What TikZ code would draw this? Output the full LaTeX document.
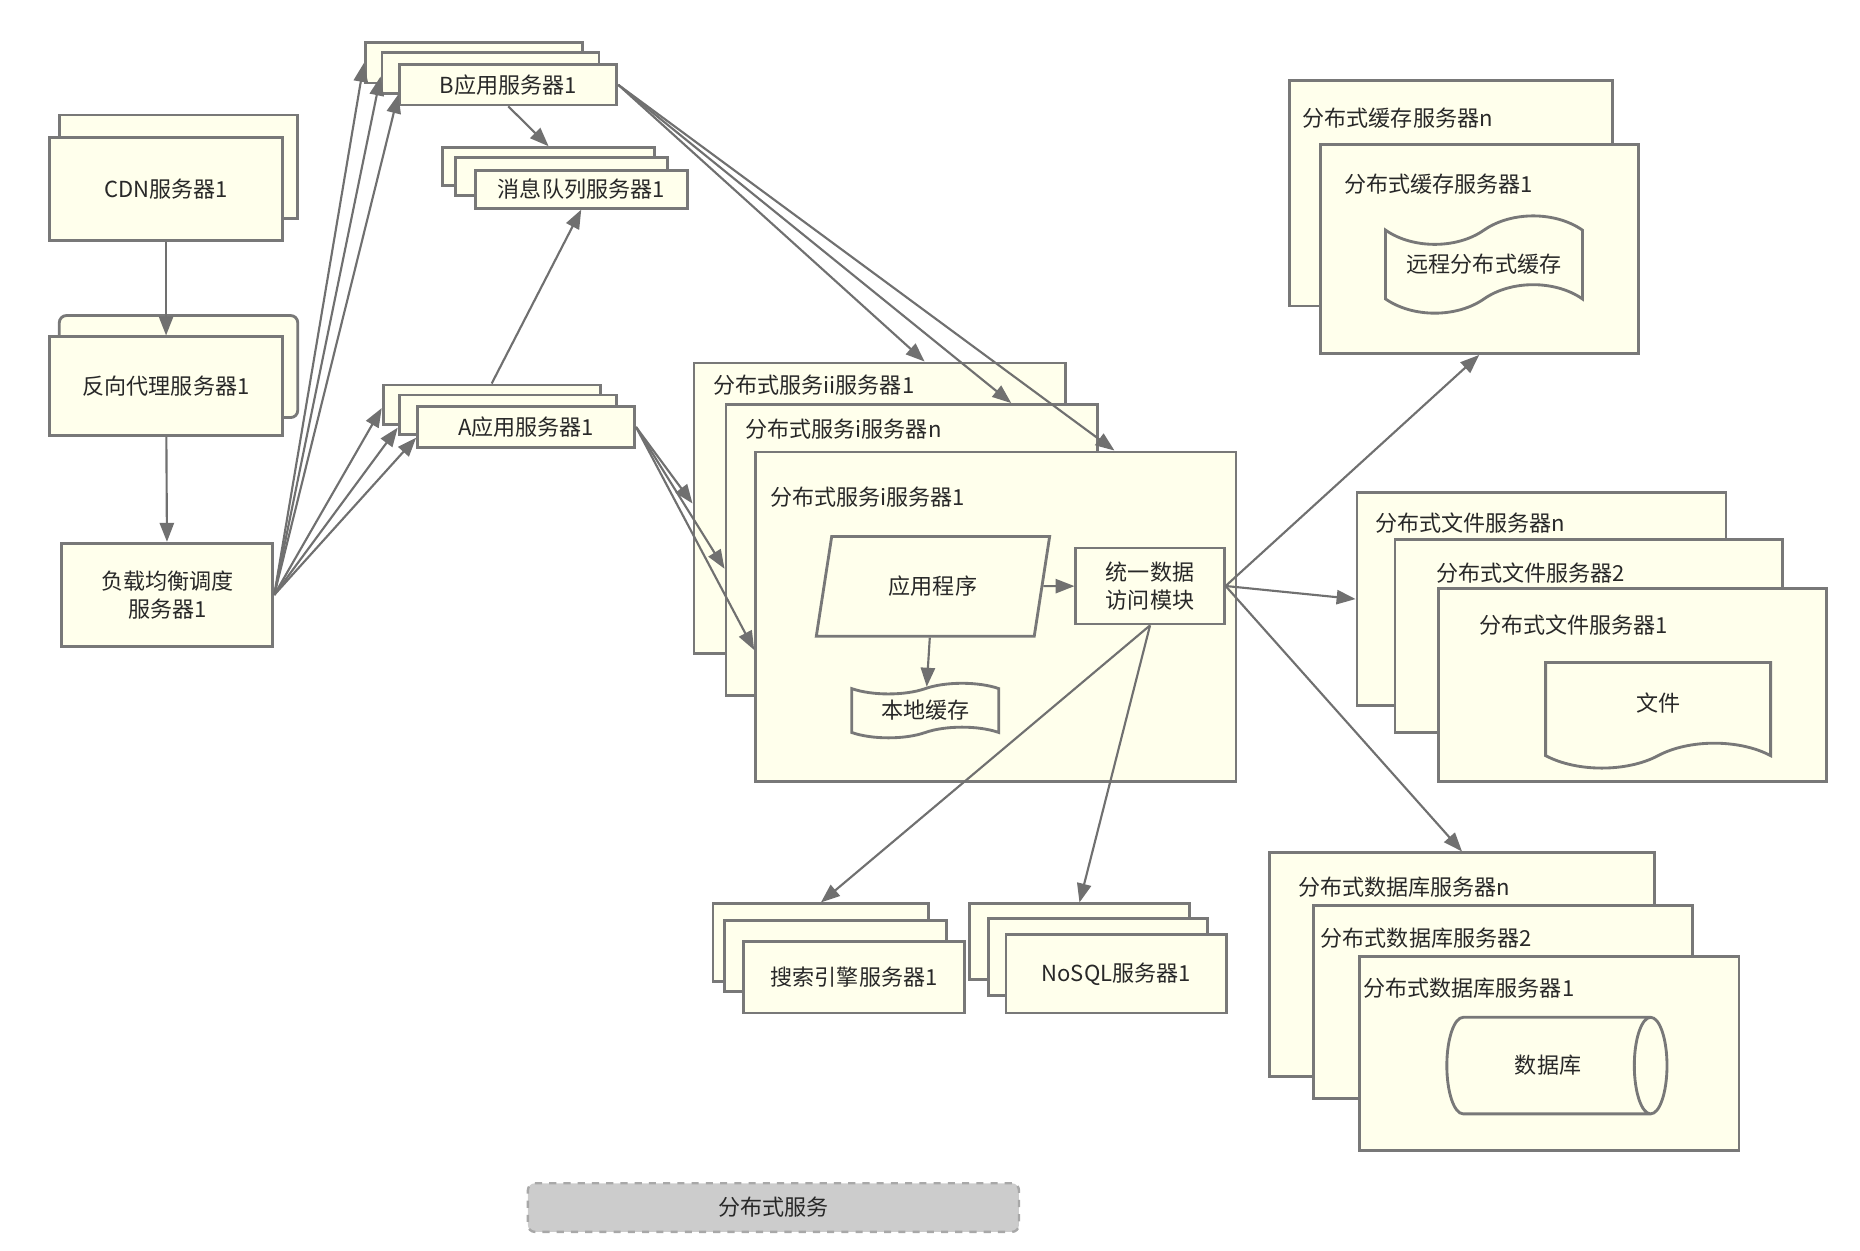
\documentclass[tikz,border=0pt]{standalone}
\usepackage{fontspec}
\setmainfont{Noto Sans CJK SC}
\usetikzlibrary{arrows.meta,shapes.geometric,shapes.symbols}
\definecolor{boxfill}{RGB}{255,255,236}
\definecolor{boxline}{RGB}{120,120,120}
\definecolor{linkgray}{RGB}{112,112,112}
\definecolor{txtdark}{RGB}{40,40,40}
\definecolor{legendfill}{RGB}{204,204,204}
\definecolor{legendline}{RGB}{168,168,168}
\newcommand\srvfont{\fontsize{9.3}{12}\selectfont}

\begin{document}
\begin{tikzpicture}[x=0.5pt, y=-0.5pt,
      srv/.style={draw=boxline, fill=boxfill, line width=1.2pt, inner sep=0pt, font=\srvfont, text=txtdark},
      title/.style={anchor=west, inner sep=0pt, font=\srvfont, text=txtdark},
      link/.style={draw=linkgray, line width=0.9pt, -{Triangle[length=8pt,width=6pt]}}
    ]
      \useasboundingbox (0,0) rectangle (1568,1054);

      % CDN and reverse proxy
      \node[srv, minimum width=100.5pt, minimum height=43.5pt] (cdnB) at (150.5,140.5) {};
      \node[srv, minimum width=98pt, minimum height=43.5pt] (cdn) at (140,159.5) {CDN服务器1};
      \node[srv, rounded corners=3pt, minimum width=100.5pt, minimum height=43pt] (proxyB) at (150.5,309) {};
      \node[srv, minimum width=98pt, minimum height=41.5pt] (proxy) at (140,325.5) {反向代理服务器1};

      % Load balancer
      \node[srv, align=center, minimum width=89pt, minimum height=43.5pt] (lb) at (141,501.5) {负载均衡调度\\服务器1};

      % B app servers
      \node[srv, minimum width=91.5pt, minimum height=17pt] (bapp1) at (399.5,53) {};
      \node[srv, minimum width=91.5pt, minimum height=17pt] (bapp2) at (413.5,61.5) {};
      \node[srv, minimum width=91.5pt, minimum height=17pt] (bapp3) at (428.5,71.5) {B应用服务器1};

      % Message queue servers
      \node[srv, minimum width=89.5pt, minimum height=16pt] (mq1) at (462.5,140.5) {};
      \node[srv, minimum width=89.5pt, minimum height=16pt] (mq2) at (473.5,149) {};
      \node[srv, minimum width=89.5pt, minimum height=16pt] (mq3) at (490,159.5) {消息队列服务器1};

      % A app servers
      \node[srv, minimum width=91.5pt, minimum height=16.5pt] (aapp1) at (414.5,341) {};
      \node[srv, minimum width=91.5pt, minimum height=16.5pt] (aapp2) at (428,349.5) {};
      \node[srv, minimum width=91.5pt, minimum height=17pt] (aapp3) at (443.5,360) {A应用服务器1};

      % Distributed service servers
      \node[srv, minimum width=156.5pt, minimum height=122.5pt] (dsA) at (741.5,428.5) {};
      \node[title] (dsAt) at (601,324.6) {分布式服务ii服务器1};
      \node[srv, minimum width=156.5pt, minimum height=122.5pt] (dsB) at (768.5,463.5) {};
      \node[title] (dsBt) at (628,362) {分布式服务i服务器n};
      \node[srv, minimum width=202.5pt, minimum height=139pt] (dsC) at (839.5,520) {};
      \node[title] (dsCt) at (649,418.7) {分布式服务i服务器1};
      \node[srv, trapezium, trapezium left angle=72, trapezium right angle=108, trapezium stretches=true,
            minimum width=98.5pt, minimum height=42pt] (app) at (786.5,494.3) {应用程序};
      \node[srv, align=center, minimum width=62.5pt, minimum height=32pt] (uda) at (969.5,494) {统一数据\\访问模块};
      \node[srv, tape, tape bend height=4.5pt, minimum width=62pt, minimum height=23pt] (cache) at (780,599) {本地缓存};

      % Distributed cache servers
      \node[srv, minimum width=136pt, minimum height=95pt] (dcacheB) at (1223,163) {};
      \node[title] (dcacheBt) at (1097.8,99.5) {分布式缓存服务器n};
      \node[srv, minimum width=134pt, minimum height=88pt] (dcache) at (1247,210) {};
      \node[title] (dcachet) at (1132.7,155) {分布式缓存服务器1};
      \node[srv, tape, tape bend height=12pt, minimum width=83pt, minimum height=41pt] (remote) at (1251,223) {远程分布式缓存};

      % Distributed file servers
      \node[srv, minimum width=155.5pt, minimum height=90pt] (fsN) at (1299.5,505) {};
      \node[title] (fsNt) at (1159,441) {分布式文件服务器n};
      \node[srv, minimum width=163.3pt, minimum height=81.5pt] (fs2) at (1339.3,536) {};
      \node[title] (fs2t) at (1210.5,483) {分布式文件服务器2};
      \node[srv, minimum width=163.5pt, minimum height=81.5pt] (fs1) at (1376.5,577.5) {};
      \node[title] (fs1t) at (1246.5,527) {分布式文件服务器1};
      \node[srv, tape, tape bend top=none, tape bend height=10.5pt, minimum width=94.8pt, minimum height=44.5pt] (doc) at (1397.8,592.5) {文件};

      % Distributed database servers
      \node[srv, minimum width=162.5pt, minimum height=94.3pt] (dbN) at (1232.5,813.3) {};
      \node[title] (dbNt) at (1094,747.5) {分布式数据库服务器n};
      \node[srv, minimum width=159.8pt, minimum height=81.2pt] (db2) at (1266.8,844.8) {};
      \node[title] (db2t) at (1113,791) {分布式数据库服务器2};
      \node[srv, minimum width=160pt, minimum height=81.8pt] (db1) at (1306,887.8) {};
      \node[title] (db1t) at (1149,833) {分布式数据库服务器1};
      \node[srv, cylinder, aspect=1.6, minimum width=40.7pt, minimum height=92.8pt] (dbase) at (1305,898.3) {数据库};

      % Search engine and NoSQL servers
      \node[srv, minimum width=91pt, minimum height=32.8pt] (se1) at (692,794.8) {};
      \node[srv, minimum width=93.5pt, minimum height=30pt] (se2) at (704.5,806) {};
      \node[srv, minimum width=93pt, minimum height=30pt] (se3) at (720,824) {搜索引擎服务器1};
      \node[srv, minimum width=92.5pt, minimum height=32pt] (ns1) at (910,794) {};
      \node[srv, minimum width=92.3pt, minimum height=32.5pt] (ns2) at (925.3,806.5) {};
      \node[srv, minimum width=93pt, minimum height=33pt] (ns3) at (941,821) {NoSQL服务器1};

      % Legend
      \node[draw=legendline, fill=legendfill, dashed, rounded corners=3pt, line width=1pt, minimum width=207pt,
            minimum height=20.5pt, font=\srvfont, text=txtdark] (legend) at (652,1018) {分布式服务};

      % Links
      \draw[link] (cdn) -- (proxy);
      \draw[link] (proxy) -- (lb);
      \draw[link] (lb.east) -- (bapp1.west);
      \draw[link] (lb.east) -- ([yshift=-1.5pt]bapp2.west);
      \draw[link] (lb.east) -- ([yshift=-4pt]bapp3.west);
      \draw[link] (lb.east) -- ([yshift=-1.5pt]aapp1.west);
      \draw[link] (lb.east) -- ([yshift=-5.5pt]aapp2.west);
      \draw[link] (lb.east) -- ([yshift=-4.5pt]aapp3.west);
      \draw[link] (bapp3.south) -- (mq1.north);
      \draw[link] (aapp1.north) -- (mq3.south);
      \draw[link] (bapp3.east) -- ([xshift=19pt]dsA.north);
      \draw[link] (bapp3.east) -- ([xshift=42pt]dsB.north);
      \draw[link] (bapp3.east) -- ([xshift=50pt]dsC.north);
      \draw[link] (aapp3.east) -- ([yshift=2pt]dsA.west);
      \draw[link] (aapp3.east) -- ([yshift=-8pt]dsB.west);
      \draw[link] (aapp3.east) -- ([yshift=-14pt]dsC.west);
      \draw[link] (app) -- (uda);
      \draw[link] (app) -- (cache);
      \draw[link] (uda.east) -- (dcache.south);
      \draw[link] (uda.east) -- (fsN.west);
      \draw[link] (uda.east) -- (dbN.north);
      \draw[link] (uda.south) -- (se1.north);
      \draw[link] (uda.south) -- (ns1.north);
    \end{tikzpicture}
\end{document}
